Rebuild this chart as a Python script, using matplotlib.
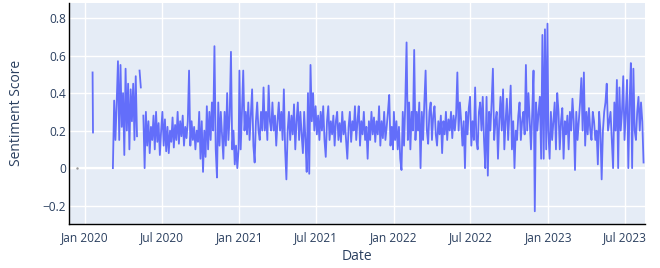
import numpy as np
import pandas as pd
import matplotlib
matplotlib.use('Agg')
import matplotlib.pyplot as plt
import matplotlib.dates as mdates
from matplotlib.ticker import FuncFormatter

nan = np.nan

# isolated early readings
early_dates = ['2019-12-15']
early_vals = [0.0]
jan_dates = ['2020-01-20', '2020-01-21']
jan_vals = [0.51, 0.19]

# main series, sampled every 3 days from each start date
start_2020 = '2020-03-08'
vals_2020 = [0.0, 0.36, 0.15, 0.35, 0.57, 0.15, 0.55, 0.22, 0.4, 0.07,
             0.53, 0.2, 0.45, 0.1, 0.42, 0.25, 0.45, 0.15, 0.49, 0.17,
             nan, 0.52, 0.43, nan, 0.28, 0.0,
             0.3, 0.12, 0.25, 0.08, 0.22, 0.15, 0.28, 0.1, 0.3, 0.14,
             0.24, 0.07, 0.2, 0.3, 0.12, 0.26, 0.09, 0.22, 0.08, 0.2,
             0.14, 0.27, 0.11, 0.23, 0.15, 0.3, 0.13, 0.25, 0.17, 0.28,
             0.12, 0.22, 0.16, 0.25, 0.52, 0.12, 0.25, 0.15, 0.22, 0.1,
             0.2, 0.14, 0.3, 0.05, 0.25, -0.02, 0.2, 0.06, 0.33, 0.1,
             0.3, 0.15, 0.35, 0.2,
             0.65, 0.1, -0.05, 0.35, 0.12, 0.3, 0.18, 0.05, 0.3, 0.12,
             0.4, 0.15, 0.28, 0.62, 0.1, 0.2, 0.02, 0.12, 0.0, 0.1]

start_2021 = '2021-01-01'
vals_2021 = [0.52, 0.1, 0.3, 0.52, 0.2, 0.3, 0.18, 0.35, 0.15, 0.28,
             0.42, 0.12, 0.03, 0.25, 0.35, 0.2, 0.15, 0.3, 0.2, 0.43,
             0.2, 0.3, 0.15, 0.44, 0.25, 0.2, 0.35, 0.2, 0.28, 0.12,
             0.25, 0.35, 0.2, 0.3, 0.15, 0.42, 0.1, -0.06, 0.2, 0.3,
             0.15, 0.28, 0.18, 0.34, 0.1, 0.25, 0.35, 0.15, 0.3, 0.18,
             0.08, 0.3, 0.15, -0.02, 0.4, -0.03, 0.55, 0.25, 0.4, 0.2,
             0.33, 0.18, 0.28, 0.15, 0.3, 0.2, 0.33, 0.15, 0.06, 0.25,
             0.33, 0.15, 0.25, 0.18, 0.28, 0.12, 0.25, 0.3, 0.15, 0.24,
             0.14, 0.3, 0.18, 0.25, 0.15, 0.05, 0.22, 0.3, 0.14, 0.25,
             0.2, 0.33, 0.15, 0.25, 0.33, 0.12, 0.25, 0.18, 0.3, 0.15,
             0.22, 0.05, 0.25, 0.15, 0.3, 0.18, 0.27, 0.14, 0.25, 0.18,
             0.33, 0.12, 0.25, 0.16, 0.3, 0.15, 0.22, 0.3, 0.39, 0.12,
             0.22, 0.1]

start_2022 = '2022-01-01'
vals_2022 = [0.3, 0.15, 0.25, 0.1, 0.22, 0.05, -0.01, 0.3, 0.12, 0.35,
             0.67, 0.15, 0.35, 0.1, 0.3, 0.2, 0.63, 0.15, 0.3, 0.2,
             0.35, 0.0, 0.3, 0.15, 0.35, 0.52, 0.2, 0.13, 0.3, 0.35,
             0.15, 0.28, 0.33, 0.18, 0.12, 0.25, 0.18, 0.28, 0.08, 0.25,
             0.18, 0.3, 0.15, 0.26, 0.2, 0.3, 0.16, 0.28, 0.2, 0.28,
             0.51, 0.2, 0.35, 0.25, 0.12, 0.25, 0.0, 0.3, 0.18, 0.32,
             0.38, 0.12, 0.25, 0.15, 0.43, 0.15, 0.1, 0.3, 0.35, 0.2,
             0.38, 0.15, 0.0, 0.38, -0.04, 0.3, 0.2, 0.35, 0.53, 0.15,
             0.25, 0.3, 0.05, 0.25, 0.38, 0.2, 0.42, 0.1, 0.25, 0.37,
             0.15, 0.3, 0.44, 0.1, 0.25, 0.0, 0.2, 0.15, 0.28, 0.35,
             0.15, 0.25, 0.3, 0.18, 0.55, 0.2, 0.4, 0.25, 0.1, 0.3,
             0.52, -0.23, 0.35, 0.2, 0.3, 0.38, 0.05, 0.71, 0.05, 0.74,
             0.1, 0.77]

start_2023 = '2023-01-01'
vals_2023 = [0.2, 0.05, 0.3, 0.15, 0.25, 0.35, 0.1, 0.4, 0.3, 0.1,
             0.25, 0.32, 0.05, 0.25, 0.18, 0.28, 0.1, 0.3, 0.2, 0.37,
             0.25, -0.01, 0.3, 0.15, 0.25, 0.35, 0.48, 0.2, 0.51, 0.12,
             0.3, 0.18, 0.32, 0.2, 0.15, 0.3, 0.25, 0.15, 0.2, 0.02,
             0.3, 0.2, -0.06, 0.2, 0.3, 0.35, 0.45, 0.2, 0.25, 0.3,
             0.15, 0.0, 0.35, 0.2, 0.47, 0.0, 0.43, 0.2, 0.3, 0.49,
             0.15, 0.3, 0.47, 0.0, 0.35, 0.56, 0.0, 0.53, 0.2, 0.15,
             0.3, 0.38, 0.2, 0.35, 0.25, 0.03]

chunks = [(start_2020, vals_2020), (start_2021, vals_2021),
          (start_2022, vals_2022), (start_2023, vals_2023)]
main = pd.concat([pd.Series(v, index=pd.date_range(s, periods=len(v), freq='3D'))
                  for s, v in chunks])

LINE = '#636EFA'
TXT = '#2a3f5f'
plt.rcParams['font.family'] = ['Open Sans', 'DejaVu Sans']

fig = plt.figure(figsize=(6.6, 2.68), dpi=100)
ax = fig.add_axes([0.105, 0.164, 0.872, 0.824])
ax.set_facecolor('#E5ECF6')

ax.plot(pd.to_datetime(early_dates), early_vals, '.', color='#999999', ms=1.5)
ax.plot(pd.to_datetime(jan_dates), jan_vals, color=LINE, lw=1.3)
ax.plot(main.index, main.values, color=LINE, lw=1.3)

ax.set_xlim(pd.Timestamp('2019-11-26'), pd.Timestamp('2023-08-17'))
ax.set_ylim(-0.298, 0.879)

ax.xaxis.set_major_locator(mdates.MonthLocator(bymonth=[1, 7]))
ax.xaxis.set_major_formatter(mdates.DateFormatter('%b %Y'))
ax.set_yticks([-0.2, 0, 0.2, 0.4, 0.6, 0.8])
ax.yaxis.set_major_formatter(FuncFormatter(
    lambda v, p: '0' if abs(v) < 1e-9 else ('%.1f' % v).replace('-', '\u2212')))

ax.grid(True, color='white', lw=1.0)
ax.axhline(0, color='white', lw=1.6, zorder=1.5)
ax.set_axisbelow(True)
for s in ['top', 'right']:
    ax.spines[s].set_visible(False)
for s in ['left', 'bottom']:
    ax.spines[s].set_color('black')
    ax.spines[s].set_linewidth(1.0)

ax.tick_params(axis='both', length=0, labelsize=8.6, colors=TXT)
ax.tick_params(axis='x', pad=5)
ax.tick_params(axis='y', pad=2.5)

ax.set_xlabel('Date', fontsize=10, color=TXT)
ax.set_ylabel('Sentiment Score', fontsize=10, color=TXT)
ax.xaxis.set_label_coords(0.5, -0.149)
ax.xaxis.label.set_verticalalignment('center')
ax.yaxis.set_label_coords(-0.091, 0.503)
ax.yaxis.label.set_verticalalignment('center')

fig.savefig('out.png', dpi=100)
